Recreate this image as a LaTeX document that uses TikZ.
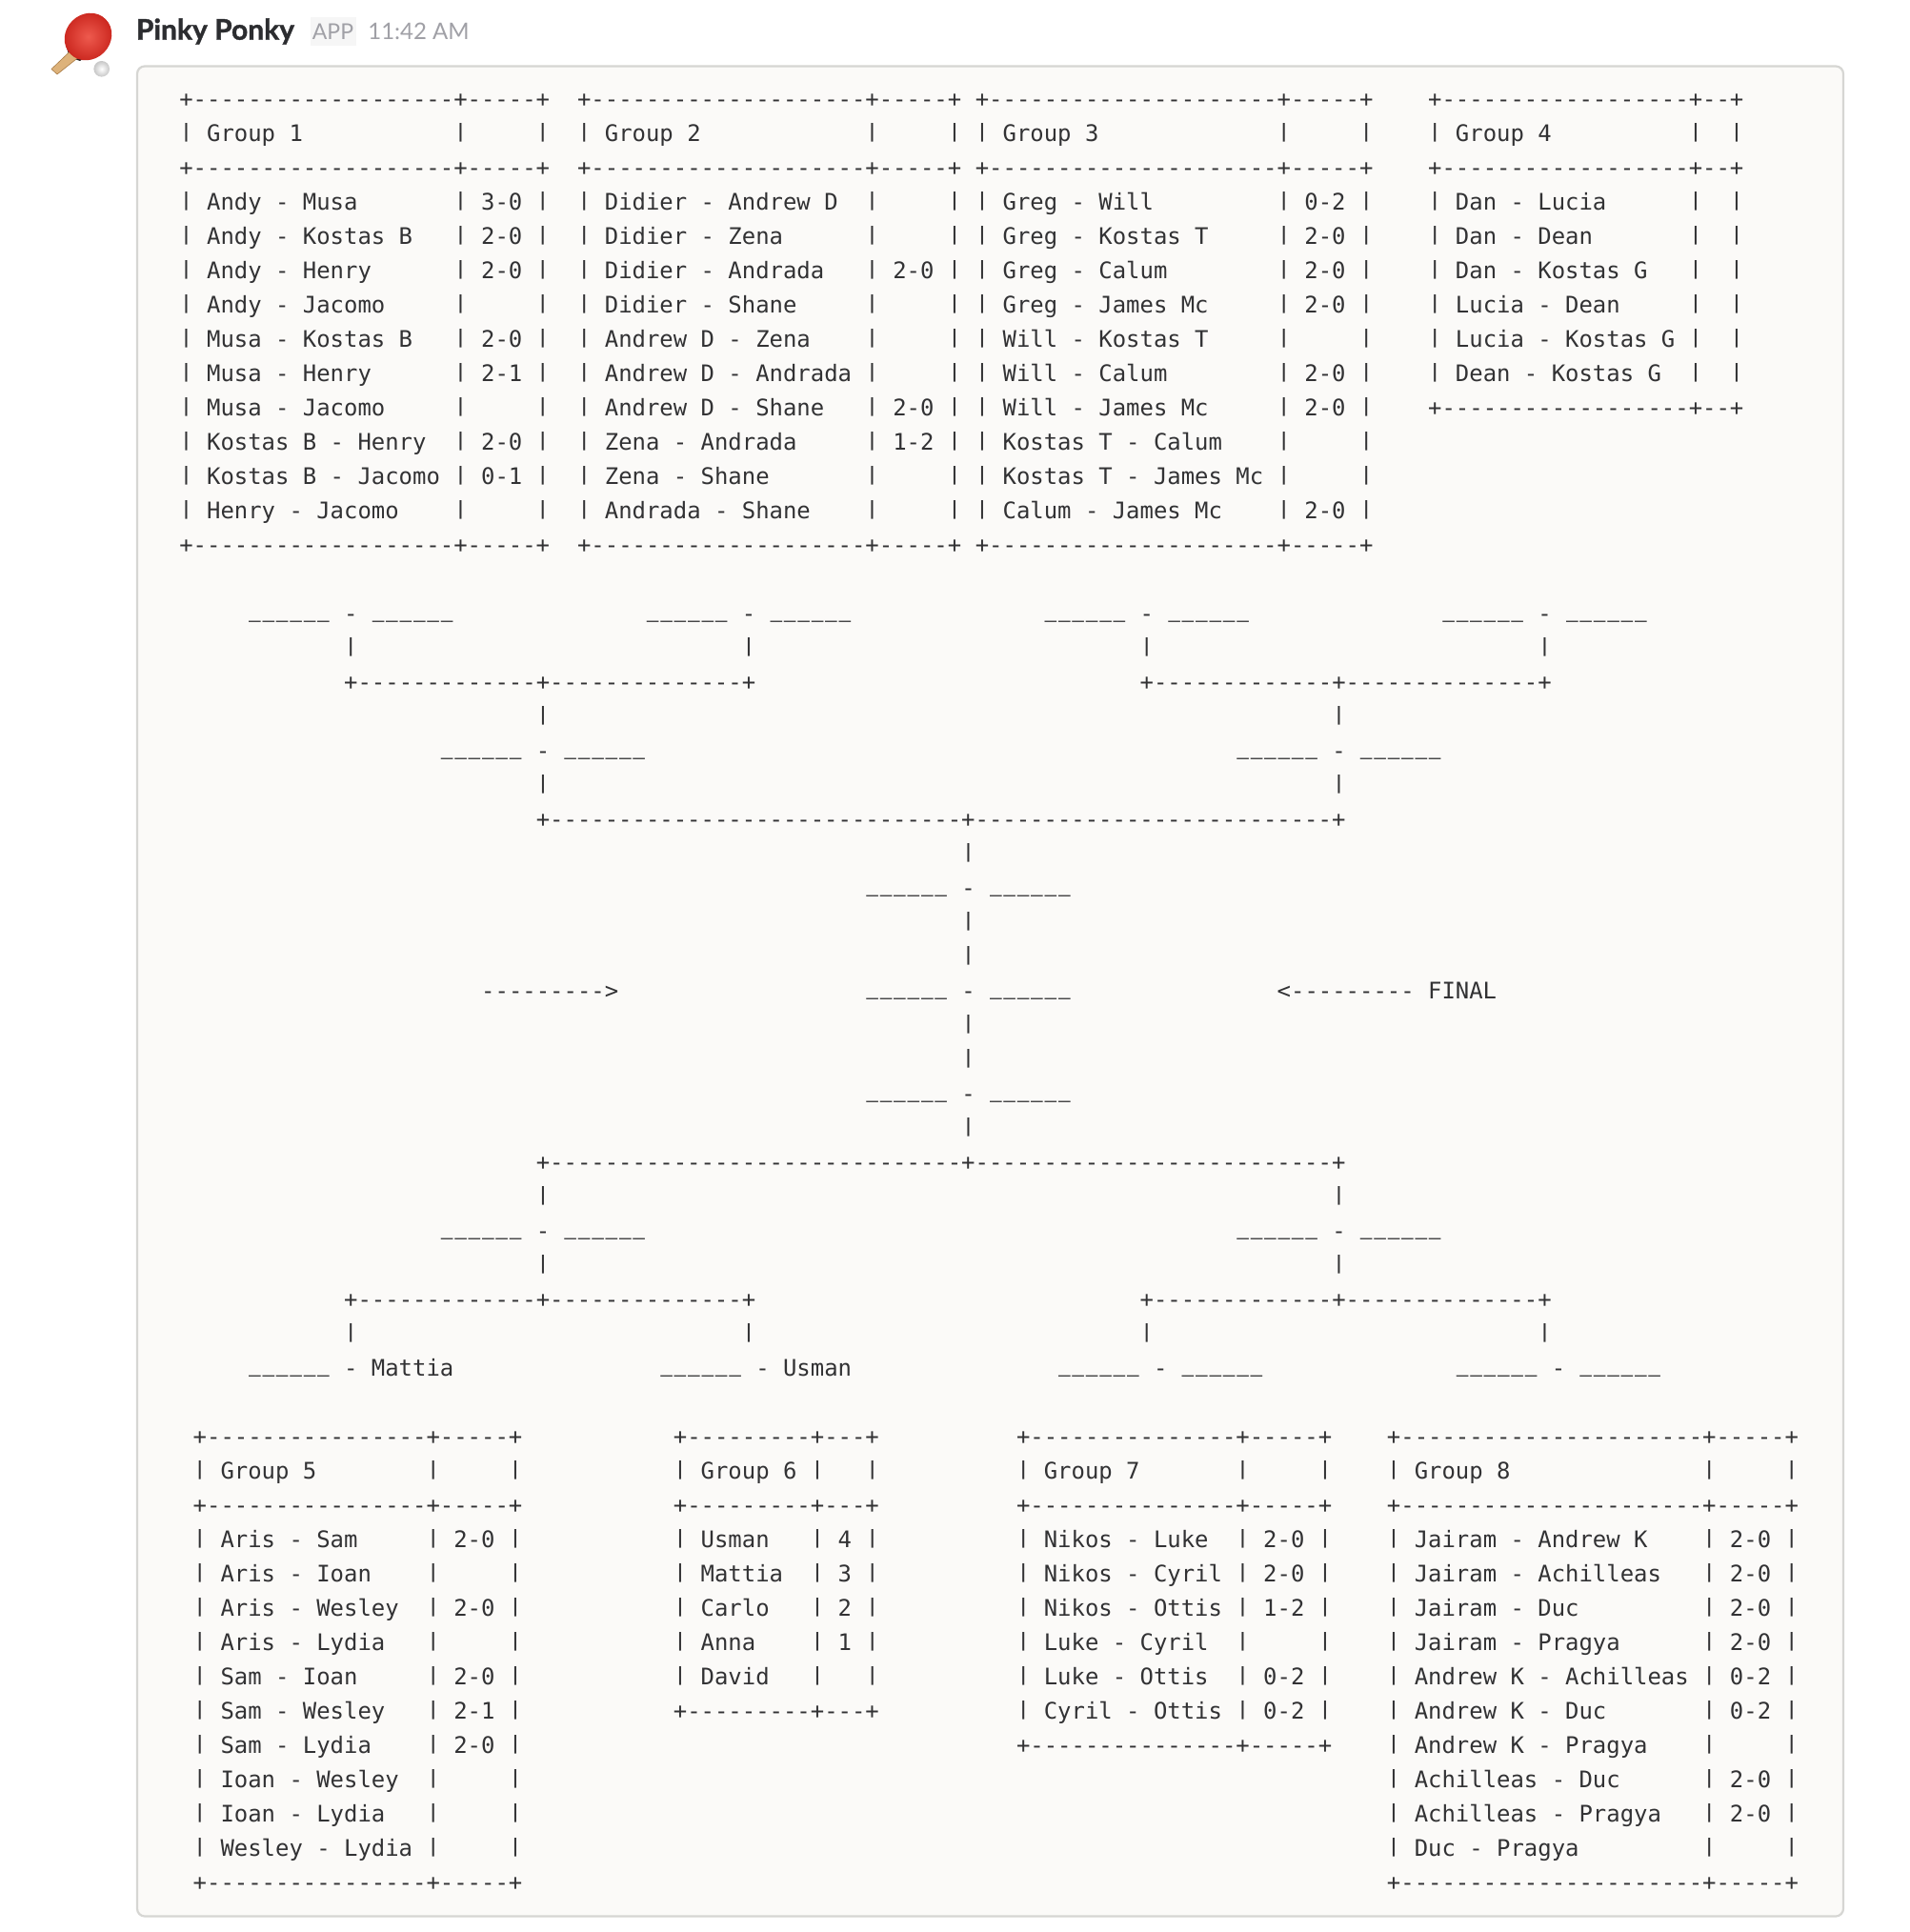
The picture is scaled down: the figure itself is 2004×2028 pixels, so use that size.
\documentclass[tikz,border=0pt]{standalone}
\usepackage{fontspec}
\usepackage{graphicx}
\usetikzlibrary{calc}
\newfontfamily\monof{DejaVu Sans Mono}
\newfontfamily\latof{Lato}
\newfontfamily\latob[BoldFeatures={FakeBold=1.2}]{Lato}
\definecolor{inkc}{HTML}{323234}
\definecolor{boxfill}{HTML}{FBFAF8}
\definecolor{boxline}{HTML}{D6D6D3}
\definecolor{greyt}{HTML}{A0A0A6}
\definecolor{appbg}{HTML}{F6F6F6}
\definecolor{namec}{HTML}{2C2D30}
\definecolor{paddlein}{HTML}{EE5A4E}
\definecolor{paddleout}{HTML}{C9241C}
\definecolor{handlec}{HTML}{DDB27A}
\definecolor{handleedge}{HTML}{A97B45}
\newdimen\cw \cw=7.2005pt
\newcommand\rep[2]{\foreach\repi in {1,...,#1}{#2}}
\newcommand\vb{\raisebox{2pt}{\scalebox{1}[.82]{|}}}
\newcommand\hr{\rule{0pt}{12pt}+\rep{\tw}{-}+\rep{\tv}{-}+}
\newcommand\tr[2]{\vb\ \makebox[\tnw\cw][l]{#1}\ \vb\ \makebox[\tnv\cw][l]{#2}\ \vb}
\newcommand\tdims[2]{\pgfmathtruncatemacro\tw{#1}\pgfmathtruncatemacro\tv{#2}\pgfmathtruncatemacro\tnw{#1-2}\pgfmathtruncatemacro\tnv{#2-2}}
\newcommand\usc{\raisebox{3.05pt}{\makebox[\cw][c]{\scalebox{.88}[1.4]{\_}}}}
\newcommand\usix{\usc\usc\usc\usc\usc\usc}
\newcommand\seg[4]{\node[cell] (#1) at ({188.3+14.405*#2},{112+36*#3}) {#4};}
\newcommand\tpos[2]{({188.3+14.405*#1},{112+36*#2-24})}
\tikzset{
  cell/.style={anchor=base west,inner sep=0pt,outer sep=0pt,text=inkc,font=\monof\fontsize{11.96}{18}\selectfont\frenchspacing},
  table/.style={anchor=north west,inner sep=0pt,outer sep=0pt,align=left,text=inkc,font=\monof\fontsize{11.96}{18}\selectfont\frenchspacing},
  msgbox/.style={draw=boxline,fill=boxfill,line width=1.1pt,rounded corners=4pt},
}
\begin{document}
\begin{tikzpicture}[x=0.5pt,y=-0.5pt]
\useasboundingbox (0,0) rectangle (2004,2028);
\fill[white] (0,0) rectangle (2004,2028);
% paddle emoji
\fill[black!88] (69,47) -- (73,60) -- (84,64) -- (92,58) -- (76,42) -- cycle;
\fill[handlec,draw=handleedge,line width=.3pt] (74.5,53) -- (82,60.5) -- (60,78) -- (54,72.5) -- cycle;
\shade[inner color=paddlein,outer color=paddleout,rotate around={-45:(92.5,38.5)}] (92.5,38.5) ellipse (23.5 and 26);
\shade[inner color=white,outer color=black!22] (106.7,72.3) circle (8.3);
% header
\node[anchor=base west,inner sep=0pt,text=namec,font=\latob\fontsize{15}{18}\bfseries\selectfont] (name) at (142.5,41.7) {Pinky Ponky};
\fill[appbg] (326,18) rectangle (374,48);
\node[anchor=base west,inner sep=0pt,text=greyt,font=\latof\fontsize{11.5}{14}\selectfont] (app) at (327.5,41.7) {APP};
\node[anchor=base west,inner sep=0pt,text=greyt,font=\latof\fontsize{12}{14}\selectfont] (time) at (386,41.7) {11:42 AM};
% message box
\draw[msgbox] (144,69.5) rectangle (1935,2011.5);
% top tables
\tdims{19}{5}
\node[table] (g1) at \tpos{0}{0} {\hr\\\tr{Group 1}{}\\\hr\\
\tr{Andy - Musa}{3-0}\\\tr{Andy - Kostas B}{2-0}\\\tr{Andy - Henry}{2-0}\\\tr{Andy - Jacomo}{}\\
\tr{Musa - Kostas B}{2-0}\\\tr{Musa - Henry}{2-1}\\\tr{Musa - Jacomo}{}\\
\tr{Kostas B - Henry}{2-0}\\\tr{Kostas B - Jacomo}{0-1}\\\tr{Henry - Jacomo}{}\\\hr};
\tdims{20}{5}
\node[table] (g2) at \tpos{29}{0} {\hr\\\tr{Group 2}{}\\\hr\\
\tr{Didier - Andrew D}{}\\\tr{Didier - Zena}{}\\\tr{Didier - Andrada}{2-0}\\\tr{Didier - Shane}{}\\
\tr{Andrew D - Zena}{}\\\tr{Andrew D - Andrada}{}\\\tr{Andrew D - Shane}{2-0}\\
\tr{Zena - Andrada}{1-2}\\\tr{Zena - Shane}{}\\\tr{Andrada - Shane}{}\\\hr};
\tdims{21}{5}
\node[table] (g3) at \tpos{58}{0} {\hr\\\tr{Group 3}{}\\\hr\\
\tr{Greg - Will}{0-2}\\\tr{Greg - Kostas T}{2-0}\\\tr{Greg - Calum}{2-0}\\\tr{Greg - James Mc}{2-0}\\
\tr{Will - Kostas T}{}\\\tr{Will - Calum}{2-0}\\\tr{Will - James Mc}{2-0}\\
\tr{Kostas T - Calum}{}\\\tr{Kostas T - James Mc}{}\\\tr{Calum - James Mc}{2-0}\\\hr};
\tdims{18}{2}
\node[table] (g4) at \tpos{91}{0} {\hr\\\tr{Group 4}{}\\\hr\\
\tr{Dan - Lucia}{}\\\tr{Dan - Dean}{}\\\tr{Dan - Kostas G}{}\\\tr{Lucia - Dean}{}\\
\tr{Lucia - Kostas G}{}\\\tr{Dean - Kostas G}{}\\\hr};
% upper bracket
\seg{a1}{5}{15}{\usix{} - \usix}
\seg{a2}{34}{15}{\usix{} - \usix}
\seg{a3}{63}{15}{\usix{} - \usix}
\seg{a4}{92}{15}{\usix{} - \usix}
\seg{b1}{12}{16}{\vb}
\seg{b2}{41}{16}{\vb}
\seg{b3}{70}{16}{\vb}
\seg{b4}{99}{16}{\vb}
\seg{c1}{12}{17}{+\rep{13}{-}+\rep{14}{-}+}
\seg{c2}{70}{17}{+\rep{13}{-}+\rep{14}{-}+}
\seg{d1}{26}{18}{\vb}
\seg{d2}{84}{18}{\vb}
\seg{e1}{19}{19}{\usix{} - \usix}
\seg{e2}{77}{19}{\usix{} - \usix}
\seg{f1}{26}{20}{\vb}
\seg{f2}{84}{20}{\vb}
\seg{g}{26}{21}{+\rep{30}{-}+\rep{26}{-}+}
\seg{h1}{57}{22}{\vb}
\seg{h2}{50}{23}{\usix{} - \usix}
\seg{h3}{57}{24}{\vb}
\seg{h4}{57}{25}{\vb}
\seg{arrowr}{22}{26}{--------->}
\seg{h5}{50}{26}{\usix{} - \usix}
\seg{arrowl}{80}{26}{<--------- FINAL}
\seg{h6}{57}{27}{\vb}
\seg{h7}{57}{28}{\vb}
\seg{h8}{50}{29}{\usix{} - \usix}
\seg{h9}{57}{30}{\vb}
% lower bracket
\seg{i}{26}{31}{+\rep{30}{-}+\rep{26}{-}+}
\seg{j1}{26}{32}{\vb}
\seg{j2}{84}{32}{\vb}
\seg{k1}{19}{33}{\usix{} - \usix}
\seg{k2}{77}{33}{\usix{} - \usix}
\seg{l1}{26}{34}{\vb}
\seg{l2}{84}{34}{\vb}
\seg{m1}{12}{35}{+\rep{13}{-}+\rep{14}{-}+}
\seg{m2}{70}{35}{+\rep{13}{-}+\rep{14}{-}+}
\seg{n1}{12}{36}{\vb}
\seg{n2}{41}{36}{\vb}
\seg{n3}{70}{36}{\vb}
\seg{n4}{99}{36}{\vb}
\seg{o1}{5}{37}{\usix{} - Mattia}
\seg{o2}{35}{37}{\usix{} - Usman}
\seg{o3}{64}{37}{\usix{} - \usix}
\seg{o4}{93}{37}{\usix{} - \usix}
% bottom tables
\tdims{16}{5}
\node[table] (g5) at \tpos{1}{39} {\hr\\\tr{Group 5}{}\\\hr\\
\tr{Aris - Sam}{2-0}\\\tr{Aris - Ioan}{}\\\tr{Aris - Wesley}{2-0}\\\tr{Aris - Lydia}{}\\
\tr{Sam - Ioan}{2-0}\\\tr{Sam - Wesley}{2-1}\\\tr{Sam - Lydia}{2-0}\\
\tr{Ioan - Wesley}{}\\\tr{Ioan - Lydia}{}\\\tr{Wesley - Lydia}{}\\\hr};
\tdims{9}{3}
\node[table] (g6) at \tpos{36}{39} {\hr\\\tr{Group 6}{}\\\hr\\
\tr{Usman}{4}\\\tr{Mattia}{3}\\\tr{Carlo}{2}\\\tr{Anna}{1}\\\tr{David}{}\\\hr};
\tdims{15}{5}
\node[table] (g7) at \tpos{61}{39} {\hr\\\tr{Group 7}{}\\\hr\\
\tr{Nikos - Luke}{2-0}\\\tr{Nikos - Cyril}{2-0}\\\tr{Nikos - Ottis}{1-2}\\\tr{Luke - Cyril}{}\\
\tr{Luke - Ottis}{0-2}\\\tr{Cyril - Ottis}{0-2}\\\hr};
\tdims{22}{5}
\node[table] (g8) at \tpos{88}{39} {\hr\\\tr{Group 8}{}\\\hr\\
\tr{Jairam - Andrew K}{2-0}\\\tr{Jairam - Achilleas}{2-0}\\\tr{Jairam - Duc}{2-0}\\\tr{Jairam - Pragya}{2-0}\\
\tr{Andrew K - Achilleas}{0-2}\\\tr{Andrew K - Duc}{0-2}\\\tr{Andrew K - Pragya}{}\\
\tr{Achilleas - Duc}{2-0}\\\tr{Achilleas - Pragya}{2-0}\\\tr{Duc - Pragya}{}\\\hr};
\end{tikzpicture}
\end{document}
